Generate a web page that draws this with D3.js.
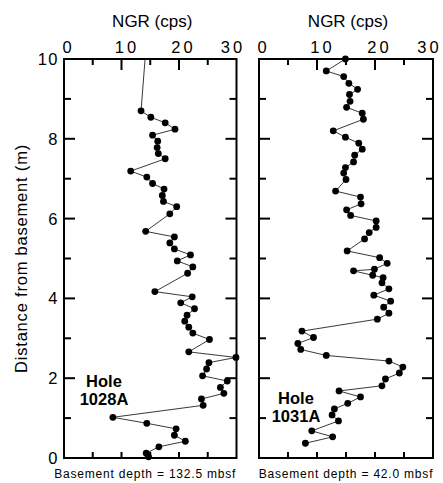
<!DOCTYPE html>
<html><head><meta charset="utf-8">
<script src="https://cdn.jsdelivr.net/npm/d3@7"></script>
<style>
body{margin:0;background:#fff;}
text{font-family:"Liberation Sans",Arial,Helvetica,sans-serif;fill:#000;}
</style></head>
<body><svg id="c" width="443" height="483"></svg>
<script>
// ---- data ----
const holes = ["1028A", "1031A"];
const basementDepths = ["132.5", "42.0"];
const xTickLabels = [0, 10, 20, 30];
const yTickLabels = [0, 2, 4, 6, 8, 10];
// Hole 1028A: line starts at top of panel (no marker) then points
const top1028 = [14.1, 10];
const ngr1028 = [13.4,15.1,17.6,19.3,15.4,16.3,16.2,16.4,17.6,11.6,14.4,15.4,17.4,17.1,17.3,19.6,18.4,14.2,19.2,18.4,19.2,22.0,19.7,22.4,21.5,15.8,22.3,20.3,22.7,21.4,21.0,21.7,22.4,25.3,21.7,29.9,25.2,24.8,24.1,28.4,27.2,27.8,23.9,24.2,8.5,14.4,19.5,19.2,21.1,16.5,14.3,14.7];
const depth1028 = [8.70,8.54,8.40,8.24,8.09,7.94,7.78,7.63,7.50,7.19,7.04,6.88,6.74,6.58,6.43,6.30,6.12,5.68,5.54,5.39,5.24,5.09,4.94,4.79,4.63,4.17,4.04,3.89,3.74,3.58,3.43,3.28,3.13,2.97,2.66,2.52,2.39,2.23,2.06,1.93,1.77,1.62,1.48,1.32,1.02,0.87,0.73,0.57,0.42,0.28,0.12,0.03];
const ngr1031 = [14.9,11.6,14.6,15.5,17.0,15.6,15.7,15.1,17.8,18.0,12.8,14.9,17.2,17.8,16.5,16.3,14.9,14.6,15.0,13.2,17.5,17.6,15.1,15.8,20.2,20.2,19.0,18.2,15.2,20.8,22.1,19.9,16.3,19.6,21.4,21.2,22.4,19.8,22.7,21.5,22.4,20.4,7.4,9.4,6.7,7.2,11.6,22.4,24.8,24.2,21.8,21.2,13.8,17.5,15.3,13.0,12.6,13.7,9.1,12.7,8.0];
const depth1031 = [10.0,9.70,9.56,9.39,9.24,9.11,8.94,8.79,8.64,8.49,8.20,8.04,7.89,7.74,7.59,7.42,7.28,7.14,6.98,6.69,6.54,6.37,6.22,6.08,5.94,5.78,5.65,5.49,5.19,5.02,4.88,4.73,4.69,4.58,4.52,4.39,4.24,4.08,3.93,3.78,3.63,3.48,3.18,3.02,2.87,2.72,2.57,2.43,2.28,2.13,1.98,1.81,1.68,1.53,1.37,1.23,1.08,0.93,0.68,0.53,0.37];

// ---- layout ----
const svg = d3.select("#c");
const yTop = 59, yBot = 458;
const panels = [
  {x0: 64, x1: 236.5, hole: holes[0], bd: basementDepths[0],
   line: [top1028].concat(ngr1028.map((v,i)=>[v, depth1028[i]])),
   pts: ngr1028.map((v,i)=>[v, depth1028[i]]), lab:[104, 387]},
  {x0: 259, x1: 433, hole: holes[1], bd: basementDepths[1],
   line: ngr1031.map((v,i)=>[v, depth1031[i]]),
   pts: ngr1031.map((v,i)=>[v, depth1031[i]]), lab:[296, 404]}
];
const y = d3.scaleLinear().domain([0, 10]).range([yBot, yTop]);
const labOff = {0: 3, 10: 4, 20: 3, 30: -5};

panels.forEach((p, pi) => {
  const x = d3.scaleLinear().domain([0, 30]).range([p.x0, p.x1]);
  const g = svg.append("g");
  const minor5 = d3.range(0, 31, 5);
  g.selectAll(".tt").data(minor5.filter(v=>v>0&&v<30)).join("line")
    .attr("x1", d=>x(d)).attr("x2", d=>x(d))
    .attr("y1", yTop).attr("y2", d => yTop + (d % 10 === 0 ? 11 : 6))
    .attr("stroke", "#000").attr("stroke-width", 2);
  g.selectAll(".bt").data(minor5.filter(v=>v>0&&v<30)).join("line")
    .attr("x1", d=>x(d)).attr("x2", d=>x(d))
    .attr("y1", yBot).attr("y2", yBot - 6)
    .attr("stroke", "#000").attr("stroke-width", 2);
  const yt = d3.range(1, 10);
  [[p.x0, 1], [p.x1, -1]].forEach(([xx, dir]) => {
    g.selectAll(null).data(yt).join("line")
      .attr("x1", xx).attr("x2", d => xx + dir * (d % 2 === 0 ? 11 : 7))
      .attr("y1", d=>y(d)).attr("y2", d=>y(d))
      .attr("stroke", "#000").attr("stroke-width", 2);
  });
  g.append("rect").attr("x", p.x0).attr("y", yTop)
    .attr("width", p.x1 - p.x0).attr("height", yBot - yTop)
    .attr("fill", "none").attr("stroke", "#000").attr("stroke-width", 2);
  g.selectAll(".xl").data(xTickLabels).join("text")
    .attr("x", d => x(d) + labOff[d] + (d === 0 ? 0 : 1.5))
    .attr("y", 53).attr("text-anchor", "middle")
    .attr("font-size", 16.5).attr("letter-spacing", d => d === 0 ? 0 : 3)
    .text(d => d);
  g.append("text").attr("x", (p.x0 + p.x1) / 2 + 2).attr("y", 27)
    .attr("text-anchor", "middle").attr("font-size", 17).text("NGR (cps)");
  const line = d3.line().x(d => x(d[0])).y(d => y(d[1]));
  g.append("path").datum(p.line).attr("d", line)
    .attr("fill", "none").attr("stroke", "#222").attr("stroke-width", 0.9);
  g.selectAll(".pt").data(p.pts).join("circle")
    .attr("cx", d => x(d[0])).attr("cy", d => y(d[1])).attr("r", 3.4)
    .attr("fill", "#000");
  const hl = g.append("text").attr("text-anchor", "middle")
    .attr("font-size", 16.5).attr("font-weight", "bold");
  hl.append("tspan").attr("x", p.lab[0]).attr("y", p.lab[1]).text("Hole");
  hl.append("tspan").attr("x", p.lab[0]).attr("y", p.lab[1] + 18).text(p.hole);
  g.append("text").attr("x", (p.x0 + p.x1) / 2 - (pi === 0 ? 5 : 0)).attr("y", 478)
    .attr("text-anchor", "middle").attr("font-size", 12).attr("letter-spacing", 0.8)
    .text("Basement depth = " + p.bd + " mbsf");
});

svg.selectAll(".yl").data(yTickLabels).join("text")
  .attr("x", 59).attr("y", d => y(d) + 6).attr("text-anchor", "end")
  .attr("font-size", 16.5).attr("letter-spacing", 1.5).text(d => d);
svg.append("text").attr("transform", `translate(27,${(yTop+yBot)/2}) rotate(-90)`)
  .attr("text-anchor", "middle").attr("font-size", 16.5).attr("letter-spacing", 0.8)
  .text("Distance from basement (m)");
</script></body></html>
